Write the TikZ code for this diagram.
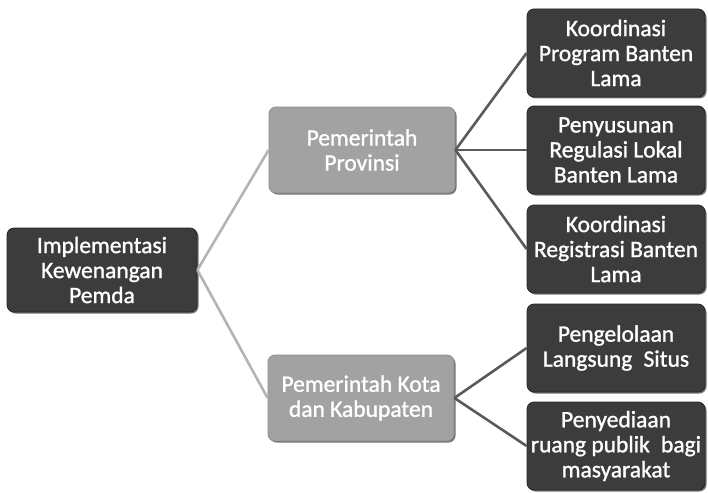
\documentclass[tikz,border=0pt]{standalone}
\usepackage{fontspec}
\setmainfont{Carlito}[FakeBold=1]
\newfontfamily\boxfont{Carlito}[FakeBold=1.2]
\usetikzlibrary{shadows}
\definecolor{darkbox}{HTML}{3C3C3C}
\definecolor{midbox}{HTML}{A2A2A2}
\definecolor{lightline}{HTML}{B4B4B4}
\definecolor{darkline}{HTML}{5A5A5A}
\tikzset{
  boxbase/.style={rounded corners=7pt, align=center, inner sep=0pt, text=white,
    font=\boxfont\fontsize{23.5}{25}\selectfont,
    drop shadow={shadow xshift=1.5pt, shadow yshift=-1.5pt, fill=black, opacity=0.55}},
  darkbox/.style={boxbase, fill=darkbox, draw=black!85, line width=0.8pt},
  midbox/.style={boxbase, fill=midbox, draw=black!45, line width=0.8pt},
  rootbox/.style={darkbox, minimum width=190pt, minimum height=84pt},
  levelbox/.style={midbox, minimum width=186pt, minimum height=86pt},
  leafbox/.style={darkbox, minimum width=178pt, minimum height=88pt},
  linkA/.style={draw=lightline, line width=2.6pt},
  linkB/.style={draw=darkline, line width=2.6pt}
}
\begin{document}
\begin{tikzpicture}[x=1pt,y=-1pt]
\useasboundingbox (0,0) rectangle (708,492);
% nodes
\node[rootbox]  (root) at (102,270) {Implementasi\\Kewenangan\\Pemda};
\node[levelbox] (prov) at (362,150) {Pemerintah\\Provinsi};
\node[levelbox] (kota) at (361,398) {Pemerintah Kota\\dan Kabupaten};
\node[leafbox]  (l1) at (616,53)  {Koordinasi\\Program Banten\\Lama};
\node[leafbox]  (l2) at (616,150) {Penyusunan\\Regulasi Lokal\\Banten Lama};
\node[leafbox]  (l3) at (616,249) {Koordinasi\\Registrasi Banten\\Lama};
\node[leafbox]  (l4) at (616,348) {Pengelolaan\\Langsung\hspace{0.25em} Situs};
\node[leafbox]  (l5) at (616,446) {Penyediaan\\ruang publik\hspace{0.25em} bagi\\masyarakat};
% connectors
\path[linkA] (root.east) -- (prov.west);
\path[linkA] (root.east) -- (kota.west);
\path[linkB] (prov.east) -- (l1.west);
\path[linkB] (prov.east) -- (l2.west);
\path[linkB] (prov.east) -- (l3.west);
\path[linkB] (kota.east) -- (l4.west);
\path[linkB] (kota.east) -- (l5.west);
\end{tikzpicture}
\end{document}
